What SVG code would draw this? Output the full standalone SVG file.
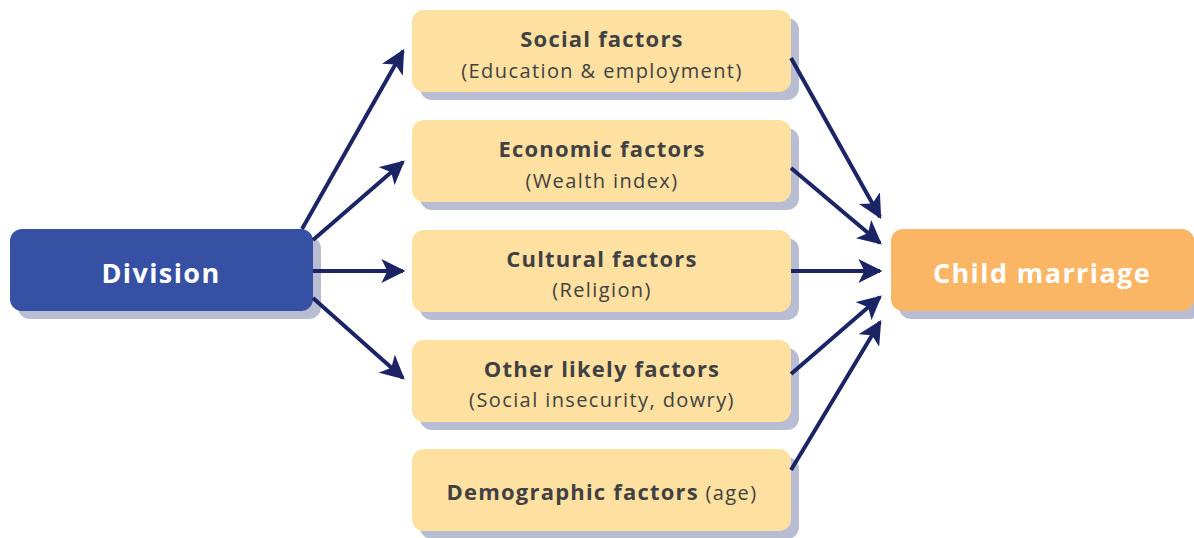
<svg xmlns="http://www.w3.org/2000/svg" width="1194" height="538" viewBox="0 0 1194 538">
<defs>
<marker id="ah" viewBox="0 0 10 10" refX="9" refY="5" markerWidth="6" markerHeight="6" markerUnits="strokeWidth" orient="auto">
<path d="M0,0 L10,5 L0,10 L2.5,5 Z" fill="#1B2566"/>
</marker>
<style>
.sh{fill:#B9BDD3}
.fac{fill:#FEE1A0}
.t{font-family:"Open Sans","Noto Sans",sans-serif;fill:#414042;text-anchor:middle}
.b{font-weight:bold;font-size:22px;letter-spacing:1.2px}
.r{font-size:20px;letter-spacing:1.4px}
.w{font-family:"Open Sans","Noto Sans",sans-serif;fill:#fff;font-weight:bold;font-size:27px;letter-spacing:1.4px;text-anchor:middle}
.c{stroke:#1B2566;stroke-width:4;fill:none;marker-end:url(#ah)}
</style>
</defs>
<rect width="1194" height="538" fill="#fff"/>
<g id="division">
<rect class="sh" x="18" y="237" width="303" height="82" rx="12"/>
<rect x="10" y="229" width="303" height="82" rx="12" fill="#3650A3"/>
<text class="w" x="161" y="283">Division</text>
</g>
<g id="social">
<rect class="sh" x="420" y="18" width="379" height="82" rx="12"/>
<rect class="fac" x="412" y="10" width="379" height="82" rx="12"/>
<text class="t b" x="602" y="47">Social factors</text>
<text class="t r" x="602" y="78">(Education &amp; employment)</text>
</g>
<g id="economic">
<rect class="sh" x="420" y="128" width="379" height="82" rx="12"/>
<rect class="fac" x="412" y="120" width="379" height="82" rx="12"/>
<text class="t b" x="602" y="157">Economic factors</text>
<text class="t r" x="602" y="188">(Wealth index)</text>
</g>
<g id="cultural">
<rect class="sh" x="420" y="238" width="379" height="82" rx="12"/>
<rect class="fac" x="412" y="230" width="379" height="82" rx="12"/>
<text class="t b" x="602" y="267">Cultural factors</text>
<text class="t r" x="602" y="297">(Religion)</text>
</g>
<g id="other">
<rect class="sh" x="420" y="348" width="379" height="82" rx="12"/>
<rect class="fac" x="412" y="340" width="379" height="82" rx="12"/>
<text class="t b" x="602" y="377">Other likely factors</text>
<text class="t r" x="602" y="407">(Social insecurity, dowry)</text>
</g>
<g id="demographic">
<rect class="sh" x="420" y="457" width="379" height="82" rx="12"/>
<rect class="fac" x="412" y="449" width="379" height="82" rx="12"/>
<text class="t" x="602" y="500"><tspan font-weight="bold" font-size="22" letter-spacing="1.2">Demographic factors</tspan><tspan font-size="20" letter-spacing="1.4"> (age)</tspan></text>
</g>
<g id="child-marriage">
<rect class="sh" x="899" y="237" width="303" height="82" rx="12"/>
<rect x="891" y="229" width="303" height="82" rx="12" fill="#FBB665"/>
<text class="w" x="1042" y="283">Child marriage</text>
</g>
<g id="connectors">
<line class="c" x1="302" y1="229" x2="403" y2="51"/>
<line class="c" x1="313" y1="240" x2="403" y2="162"/>
<line class="c" x1="313" y1="271" x2="403" y2="271"/>
<line class="c" x1="313" y1="298" x2="403" y2="378"/>
<line class="c" x1="791" y1="58" x2="880" y2="217"/>
<line class="c" x1="791" y1="168" x2="880" y2="243"/>
<line class="c" x1="791" y1="271" x2="880" y2="271"/>
<line class="c" x1="791" y1="374" x2="880" y2="297"/>
<line class="c" x1="791" y1="470" x2="880" y2="322"/>
</g>
</svg>
